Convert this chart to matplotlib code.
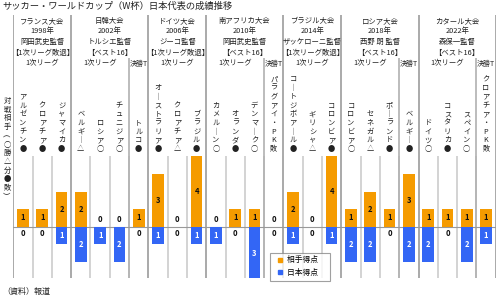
import matplotlib
matplotlib.use("Agg")
import matplotlib.pyplot as plt
from matplotlib.lines import Line2D

plt.rcParams["font.family"] = ["Noto Sans CJK JP", "DejaVu Sans"]

# ---------------------------------------------------------------------------
# Data
# ---------------------------------------------------------------------------
tournaments = ["フランス大会", "日韓大会", "ドイツ大会", "南アフリカ大会",
               "ブラジル大会", "ロシア大会", "カタール大会"]
years = ["1998年", "2002年", "2006年", "2010年", "2014年", "2018年", "2022年"]
managers = ["岡田武史監督", "トルシエ監督", "ジーコ監督", "岡田武史監督",
            "ザッケローニ監督", "西野 朗 監督", "森保一監督"]
finishes = ["【1次リーグ敗退】", "【ベスト16】", "【1次リーグ敗退】", "【ベスト16】",
            "【1次リーグ敗退】", "【ベスト16】", "【ベスト16】"]
n_group = [3, 3, 3, 3, 3, 3, 3]
n_ko = [0, 1, 0, 1, 0, 1, 1]

opponents = ["アルゼンチン", "クロアチア", "ジャマイカ",
             "ベルギー", "ロシア", "チュニジア", "トルコ",
             "オーストラリア", "クロアチア", "ブラジル",
             "カメルーン", "オランダ", "デンマーク", "パラグアイ・PK",
             "コートジボアール", "ギリシャ", "コロンビア",
             "コロンビア", "セネガル", "ポーランド", "ベルギー",
             "ドイツ", "コスタリカ", "スペイン", "クロアチア・PK"]
results = ["●", "●", "●",
           "△", "○", "○", "●",
           "●", "△", "●",
           "○", "●", "○", "敗",
           "●", "△", "●",
           "○", "△", "●", "●",
           "○", "●", "○", "敗"]
opp_goals = [1, 1, 2, 2, 0, 0, 1, 3, 0, 4, 0, 1, 1, 0, 2, 0, 4, 1, 2, 1, 3, 1, 1, 1, 1]
jpn_goals = [0, 0, 1, 2, 1, 2, 0, 1, 0, 1, 1, 0, 3, 0, 1, 0, 1, 2, 2, 0, 2, 2, 0, 2, 1]

ORANGE = "#F59B00"
BLUE = "#3366F5"
W, H = 500, 298
BASE_PX, GOAL_PX = 226.7, 17.6


def py(p):
    """pixel row -> data y (goals)"""
    return (BASE_PX - p) / GOAL_PX


fig = plt.figure(figsize=(W / 100, H / 100), dpi=100)
fig.patch.set_facecolor("white")
ax = fig.add_axes([13.3 / W, 20 / H, 482.4 / W, 265 / H])
ax.set_xlim(-0.5, len(opponents) - 0.5)
ax.set_ylim(py(278), py(13))
ax.axis("off")

x = list(range(len(opponents)))
ax.bar(x, opp_goals, width=0.6, color=ORANGE, zorder=2)
ax.bar(x, [-g for g in jpn_goals], width=0.6, color=BLUE, zorder=2)
ax.axhline(0, color="#999999", lw=0.8, zorder=1)

# separators
bottom = py(278)
starts = []
pos = 0
for g, k in zip(n_group, n_ko):
    starts.append(pos)
    pos += g + k
for i in range(len(opponents) + 1):
    ax.vlines(i - 0.5, bottom, py(156), color="#cccccc", lw=1.2, zorder=0)
for s in starts + [len(opponents)]:
    ax.vlines(s - 0.5, bottom, py(15), color="#aaaaaa", lw=1.4, zorder=0)

# headers
for t, s in enumerate(starts):
    g, k = n_group[t], n_ko[t]
    cx = s + (g + k - 1) / 2
    for txt, p in zip([tournaments[t], years[t], managers[t], finishes[t]],
                      [21, 31.5, 42, 52.5]):
        ax.text(cx, py(p), txt, ha="center", va="center", fontsize=5.3, color="#222")
    ax.text(s + (g - 1) / 2, py(63.5), "1次リーグ", ha="center", va="center",
            fontsize=5.3, color="#222")
    if k:
        ko = s + g
        ax.vlines(ko - 0.5, bottom, py(58), color="#b0b0b0", lw=1.2, zorder=0)
        ax.text(ko, py(63.5), "決勝T", ha="center", va="center",
                fontsize=5.0, color="#222")

# opponent names (vertical) with result symbol
for i, (name, res) in enumerate(zip(opponents, results)):
    chars = [("｜" if c == "ー" else c) for c in name] + [res]
    ax.text(i, py(153), "\n".join(chars), ha="center", va="bottom",
            fontsize=5.2, linespacing=1.12, color="#222")

# value labels
for i in x:
    o, j = opp_goals[i], jpn_goals[i]
    if o:
        ax.text(i, o / 2, str(o), ha="center", va="center", fontsize=5.5,
                fontweight="bold", color="#111", zorder=3)
    else:
        ax.text(i, py(219), "0", ha="center", va="center", fontsize=5.5,
                fontweight="bold", color="#111", zorder=3)
    if j:
        ax.text(i, -j / 2, str(j), ha="center", va="center", fontsize=5.5,
                fontweight="bold", color="white", zorder=3)
    else:
        ax.text(i, py(233), "0", ha="center", va="center", fontsize=5.5,
                fontweight="bold", color="#111", zorder=3)

handles = [Line2D([], [], marker="s", ls="none", color=ORANGE, markersize=3),
           Line2D([], [], marker="s", ls="none", color=BLUE, markersize=3)]
leg = ax.legend(handles, ["相手得点　", "日本得点　"], loc="lower left",
                bbox_to_anchor=(0.532, -0.01), fontsize=5.6, frameon=True,
                fancybox=False, edgecolor="#888888", handlelength=1.6,
                handletextpad=0.2, borderpad=0.45, labelspacing=0.6,
                borderaxespad=0)
leg.get_frame().set_linewidth(0.8)
leg.set_zorder(5)

fig.text(7 / W, 1 - 97 / H, "\n".join("対戦相手︵○勝△分●敗︶"), ha="center",
         va="top", fontsize=5.3, linespacing=1.12, color="#222")
fig.text(2 / W, 1 - 6.5 / H, "サッカー・ワールドカップ（W杯）日本代表の成績推移",
         ha="left", va="center", fontsize=6.7, color="#222")
fig.text(2 / W, 1 - 291 / H, "（資料）報道", ha="left", va="center",
         fontsize=5.8, color="#222")

fig.savefig("out.png", dpi=100, facecolor="white")
